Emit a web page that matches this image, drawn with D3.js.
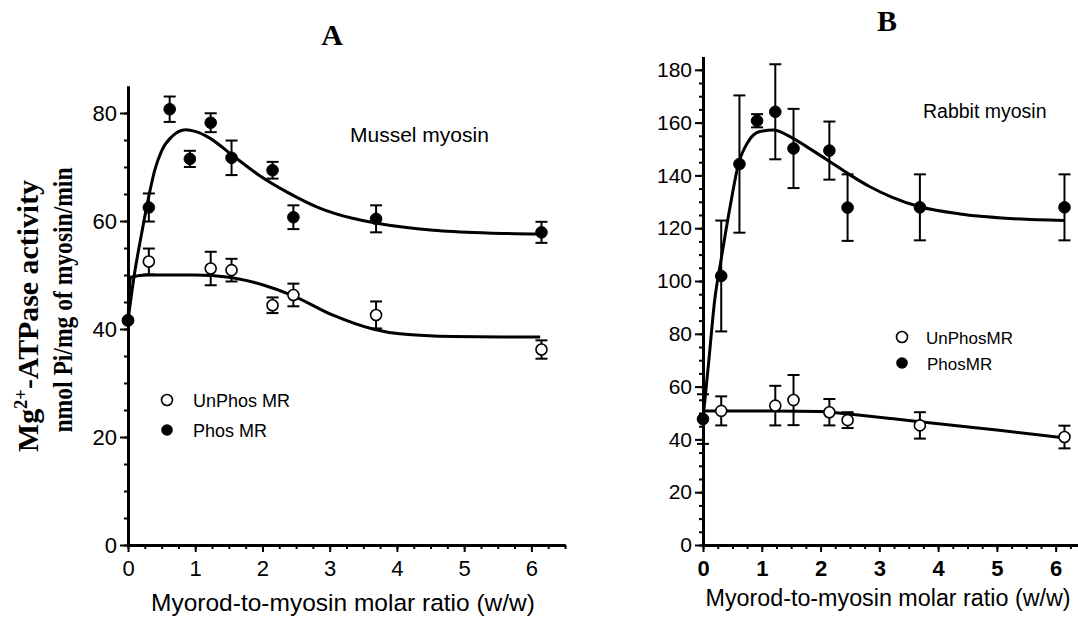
<!DOCTYPE html>
<html>
<head>
<meta charset="utf-8">
<script src="https://cdn.jsdelivr.net/npm/d3@7"></script>
<style>
  body { margin: 0; background: #fff; }
  svg text { font-family: "Liberation Sans", Arial, sans-serif; fill: #000; }
  .serif { font-family: "Liberation Serif", "Times New Roman", serif; font-weight: bold; }
</style>
</head>
<body>
<div id="chart"></div>
<script>
// ---- data ----

// panel A (mussel myosin)
var musselPhosX = [0, 0.31, 0.62, 0.92, 1.23, 1.54, 2.15, 2.46, 3.69, 6.15];
var musselPhosY = [41.6, 62.5, 80.7, 71.5, 78.2, 71.7, 69.4, 60.7, 60.4, 57.9];
var musselPhosErr = [0, 2.6, 2.35, 1.5, 1.75, 3.2, 1.55, 2.2, 2.5, 1.95];

var musselUnX = [0, 0.31, 1.23, 1.54, 2.15, 2.46, 3.69, 6.15];
var musselUnY = [41.6, 52.5, 51.2, 50.9, 44.4, 46.3, 42.6, 36.2];
var musselUnErr = [0, 2.4, 3.1, 2.1, 1.45, 2.1, 2.5, 1.7];

// fitted curves
var musselPhosFitX = [0, 0.1, 0.2, 0.3, 0.4, 0.5, 0.65, 0.86, 1.0, 1.21, 1.55, 1.96, 2.36, 2.85, 3.34, 3.7, 4.54, 5.34, 6.13];
var musselPhosFitY = [41.6, 50.5, 57.5, 64, 69.5, 73, 75.6, 76.9, 76.6, 75.4, 72.2, 68.4, 65.4, 62.4, 60.5, 59.6, 58.3, 57.8, 57.6];
var musselUnFitX = [0, 0.04, 0.3, 1.0, 1.5, 2.0, 2.45, 3.04, 3.64, 4.04, 4.84, 6.13];
var musselUnFitY = [41.6, 49.6, 50, 50, 49.6, 48.2, 46.2, 42.6, 40, 39.1, 38.6, 38.5];

// panel B (rabbit myosin)
var rabbitPhosX = [0, 0.31, 0.62, 0.92, 1.23, 1.54, 2.15, 2.46, 3.69, 6.15];
var rabbitPhosY = [47.7, 101.9, 144.3, 160.7, 164.1, 150.2, 149.4, 127.8, 127.9, 127.9];
var rabbitPhosErr = [9.4, 21, 26, 2.5, 18, 15, 11, 12.6, 12.5, 12.5];

var rabbitUnX = [0.31, 1.23, 1.54, 2.15, 2.46, 3.69, 6.15];
var rabbitUnY = [50.8, 52.8, 54.9, 50.3, 47.3, 45.3, 40.9];
var rabbitUnErr = [5.5, 7.5, 9.5, 5, 3, 5, 4.3];

var rabbitPhosFitX = [0, 0.1, 0.2, 0.3, 0.46, 0.6, 0.77, 0.97, 1.2, 1.48, 1.76, 2.16, 2.5, 2.84, 3.2, 3.69, 4.37, 5.22, 6.14];
var rabbitPhosFitY = [47.7, 70, 93, 107, 128, 144, 152.8, 156.6, 157.2, 154.7, 150.9, 145.2, 140.2, 135.7, 131.9, 128.1, 125.4, 123.7, 122.9];
var rabbitUnFitX = [0, 1.0, 2.0, 2.56, 3.2, 3.69, 4.4, 5.0, 6.13];
var rabbitUnFitY = [50.8, 50.8, 50.6, 49.4, 47.9, 46.7, 45, 43.6, 40.6];

// ticks
var xTicks = [0, 1, 2, 3, 4, 5, 6];
var musselYTicks = [0, 20, 40, 60, 80];
var rabbitYTicks = [0, 20, 40, 60, 80, 100, 120, 140, 160, 180];

var width = 1078;
var height = 619;

var svg = d3
  .select("#chart")
  .append("svg")
  .attr("width", width)
  .attr("height", height);

svg.append("rect").attr("width", width).attr("height", height).attr("fill", "#fff");

function zip(xs, ys, es) {
  return xs.map(function(v, i) {
    return { x: v, y: ys[i], e: es ? es[i] : 0 };
  });
}

function drawPanel(p) {
  var g = svg.append("g");

  var x = d3.scaleLinear().domain([0, p.xMax]).range(p.xRange);
  var y = d3.scaleLinear().domain([0, p.yMax]).range(p.yRange);

  // minor ticks first, then major with labels
  var xMinor = d3.range(0, p.xMax + 0.001, 0.25);
  var yMinor = d3.range(0, p.yMax, 5);

  var xAxisMinor = d3.axisBottom(x).tickValues(xMinor).tickSize(4).tickSizeOuter(0).tickFormat("");
  var xAxis = d3.axisBottom(x).tickValues(xTicks).tickSize(7).tickSizeOuter(0).tickPadding(8).tickFormat(d3.format("d"));
  var yAxisMinor = d3.axisLeft(y).tickValues(yMinor).tickSize(4).tickSizeOuter(0).tickFormat("");
  var yAxis = d3.axisLeft(y).tickValues(p.yTicks).tickSize(8).tickSizeOuter(0).tickPadding(3).tickFormat(d3.format("d"));

  var axes = [
    [xAxisMinor, "translate(0," + p.yRange[0] + ")"],
    [xAxis, "translate(0," + p.yRange[0] + ")"],
    [yAxisMinor, "translate(" + p.xRange[0] + ",0)"],
    [yAxis, "translate(" + p.xRange[0] + ",0)"]
  ];
  axes.forEach(function(a, i) {
    var ag = g.append("g").attr("transform", a[1]).call(a[0]);
    ag.select(".domain").attr("stroke", "#000").attr("stroke-width", 3);
    ag.selectAll(".tick line").attr("stroke", "#000").attr("stroke-width", 2);
    ag.selectAll(".tick text")
      .attr("font-family", "Liberation Sans, Arial, sans-serif")
      .attr("font-size", i === 1 ? p.xTickFont : p.yTickFont)
      .attr("font-weight", i === 1 && p.boldX ? "bold" : "normal");
  });

  // fitted curves
  var line = d3
    .line()
    .x(function(d) { return x(d.x); })
    .y(function(d) { return y(d.y); })
    .curve(d3.curveMonotoneX);

  [p.phosFit, p.unFit].forEach(function(f) {
    g.append("path")
      .attr("d", line(f))
      .attr("fill", "none")
      .attr("stroke", "#000")
      .attr("stroke-width", 3);
  });

  // error bars + points
  function drawSeries(data, open) {
    var cap = 6;
    var bars = g.append("g").selectAll("g").data(data.filter(function(d) { return d.e > 0; })).enter().append("g")
      .attr("stroke", "#000").attr("stroke-width", 2);
    bars.append("line")
      .attr("x1", function(d) { return x(d.x); })
      .attr("x2", function(d) { return x(d.x); })
      .attr("y1", function(d) { return y(d.y - d.e); })
      .attr("y2", function(d) { return y(d.y + d.e); });
    bars.append("line")
      .attr("x1", function(d) { return x(d.x) - cap; })
      .attr("x2", function(d) { return x(d.x) + cap; })
      .attr("y1", function(d) { return y(d.y + d.e); })
      .attr("y2", function(d) { return y(d.y + d.e); });
    bars.append("line")
      .attr("x1", function(d) { return x(d.x) - cap; })
      .attr("x2", function(d) { return x(d.x) + cap; })
      .attr("y1", function(d) { return y(d.y - d.e); })
      .attr("y2", function(d) { return y(d.y - d.e); });

    g.append("g").selectAll("circle").data(data).enter().append("circle")
      .attr("cx", function(d) { return x(d.x); })
      .attr("cy", function(d) { return y(d.y); })
      .attr("r", open ? 5.5 : 5.8)
      .attr("fill", open ? "#fff" : "#000")
      .attr("stroke", "#000")
      .attr("stroke-width", open ? 1.6 : 1);
  }
  drawSeries(p.un, true);
  drawSeries(p.phos, false);

  // legend
  var lg = g.append("g");
  lg.append("circle").attr("cx", p.legend[0]).attr("cy", p.legend[1])
    .attr("r", 5.5).attr("fill", "#fff").attr("stroke", "#000").attr("stroke-width", 1.6);
  lg.append("circle").attr("cx", p.legend[0]).attr("cy", p.legend[1] + p.legend[2])
    .attr("r", 5.8).attr("fill", "#000");
  lg.append("text").attr("x", p.legend[0] + p.legendText[0]).attr("y", p.legend[1] + 6.5)
    .attr("font-size", p.legendFont).text(p.legendLabels[0]);
  lg.append("text").attr("x", p.legend[0] + p.legendText[1]).attr("y", p.legend[1] + p.legend[2] + 6.5)
    .attr("font-size", p.legendFont).text(p.legendLabels[1]);

  // series name
  g.append("text").attr("x", p.name[0]).attr("y", p.name[1])
    .attr("font-size", p.name[2]).text(p.name[3]);

  // x-axis title
  g.append("text")
    .attr("x", p.xTitle[0]).attr("y", p.xTitle[1])
    .attr("text-anchor", "middle")
    .attr("font-size", p.xTitle[2])
    .text("Myorod-to-myosin molar ratio (w/w)");

  // panel letter
  g.append("text").attr("class", "serif")
    .attr("x", p.letter[0]).attr("y", p.letter[1])
    .attr("text-anchor", "middle").attr("font-size", 30)
    .text(p.letter[2]);
}

drawPanel({
  xMax: 6.5, yMax: 85,
  xRange: [128, 565], yRange: [545, 86],
  yTicks: musselYTicks,
  xTickFont: 22, yTickFont: 22, boldX: false,
  phos: zip(musselPhosX, musselPhosY, musselPhosErr),
  un: zip(musselUnX, musselUnY, musselUnErr),
  phosFit: zip(musselPhosFitX, musselPhosFitY),
  unFit: zip(musselUnFitX, musselUnFitY),
  legend: [167, 400, 30], legendText: [26, 26], legendFont: 18,
  legendLabels: ["UnPhos MR", "Phos MR"],
  name: [350, 142, 21, "Mussel myosin"],
  xTitle: [343, 611, 24.5],
  letter: [332, 45, "A"]
});

drawPanel({
  xMax: 6.38, yMax: 185,
  xRange: [703, 1078], yRange: [545, 56.6],
  yTicks: rabbitYTicks,
  xTickFont: 22, yTickFont: 21, boldX: true,
  phos: zip(rabbitPhosX, rabbitPhosY, rabbitPhosErr),
  un: zip(rabbitUnX, rabbitUnY, rabbitUnErr),
  phosFit: zip(rabbitPhosFitX, rabbitPhosFitY),
  unFit: zip(rabbitUnFitX, rabbitUnFitY),
  legend: [902, 337, 26], legendText: [24, 25], legendFont: 17,
  legendLabels: ["UnPhosMR", "PhosMR"],
  name: [923, 118, 19.5, "Rabbit myosin"],
  xTitle: [888, 606, 23.3],
  letter: [887, 31, "B"]
});

// y-axis title (shared, left of panel A)
var yt1 = svg.append("text").attr("class", "serif")
  .attr("transform", "translate(38,316) rotate(-90)")
  .attr("text-anchor", "middle")
  .attr("font-size", 29)
  .attr("textLength", 272)
  .attr("lengthAdjust", "spacingAndGlyphs");
yt1.append("tspan").text("Mg");
yt1.append("tspan").attr("dy", -11).attr("font-size", 18).text("2+");
yt1.append("tspan").attr("dy", 11).text("-ATPase activity");

svg.append("text").attr("class", "serif")
  .attr("transform", "translate(72,300) rotate(-90)")
  .attr("text-anchor", "middle")
  .attr("font-size", 27)
  .attr("textLength", 265)
  .attr("lengthAdjust", "spacingAndGlyphs")
  .text("nmol Pi/mg of myosin/min");
</script>
</body>
</html>
